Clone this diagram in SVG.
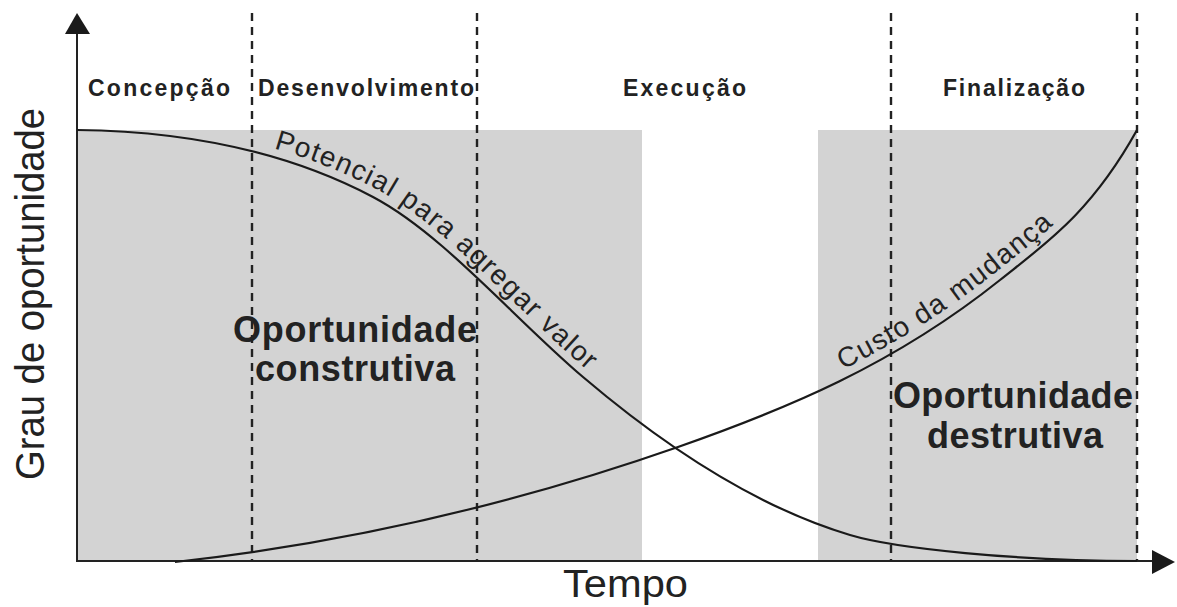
<svg xmlns="http://www.w3.org/2000/svg" width="1177" height="607" viewBox="0 0 1177 607">
<style>
.zone{fill:#d3d3d3;stroke:none}
.divider{stroke:#222;stroke-width:2.4;stroke-dasharray:8,6;fill:none}
.axis{stroke:#222;stroke-width:2;fill:none}
.head{fill:#1a1a1a}
.curve{stroke:#1a1a1a;stroke-width:2.2;fill:none}
.phase{font-family:"Liberation Sans",Arial,sans-serif;font-weight:bold;font-size:23px;fill:#222}
.big{font-family:"Liberation Sans",Arial,sans-serif;font-weight:bold;font-size:36px;fill:#222}
.curvelabel{font-family:"Liberation Sans",Arial,sans-serif;font-size:28px;fill:#222;letter-spacing:1.4px}
.axislabel{font-family:"Liberation Sans",Arial,sans-serif;fill:#222}
</style>
<rect width="1177" height="607" fill="#fff"/>
<g id="zones">
<rect id="zone-constructive" class="zone" x="77" y="130" width="565" height="431"/>
<rect id="zone-destructive" class="zone" x="818" y="130" width="319" height="431"/>
</g>
<g id="dividers">
<line class="divider" x1="252" y1="13" x2="252" y2="561"/>
<line class="divider" x1="477" y1="13" x2="477" y2="561"/>
<line class="divider" x1="891" y1="13" x2="891" y2="561"/>
<line class="divider" x1="1137" y1="13" x2="1137" y2="561"/>
</g>
<g id="connectors">
<line class="axis" x1="77" y1="30" x2="77" y2="562"/>
<polygon class="head" points="77,13 65,34 90,34"/>
<line class="axis" x1="76" y1="561" x2="1155" y2="561"/>
<polygon class="head" points="1175,562 1152,550 1152,574"/>
<path id="c1" class="curve" d="M77,130 C176,131 280,148 373,197 C443,234 513,317.5 583,377 C672,452.7 761,508.3 850,535 C895,548.5 1017,561 1137,561"/>
<path id="c2" class="curve" d="M175,562 C343,543.5 510,505.8 678,447 C785,409.5 893,365.6 1000,280 C1046,243.2 1091,212.8 1137,130"/>
</g>
<g id="phase-labels">
<text id="concepcao" class="phase" x="88" y="96" textLength="142">Concepção</text>
<text id="desenvolvimento" class="phase" x="258" y="96" textLength="216">Desenvolvimento</text>
<text id="execucao" class="phase" x="623" y="96" textLength="123">Execução</text>
<text id="finalizacao" class="phase" x="943" y="96" textLength="142">Finalização</text>
</g>
<g id="curve-labels">
<text class="curvelabel" transform="translate(3,-8)"><textPath href="#c1" startOffset="196">Potencial para agregar valor</textPath></text>
<text class="curvelabel" transform="translate(-4,-8)"><textPath href="#c2" startOffset="700">Custo da mudança</textPath></text>
</g>
<g id="zone-labels">
<text class="big" x="233" y="342" textLength="244">Oportunidade</text>
<text class="big" x="255" y="381" textLength="200">construtiva</text>
<text class="big" x="893" y="408" textLength="240">Oportunidade</text>
<text class="big" x="927" y="448" textLength="176">destrutiva</text>
</g>
<g id="axis-labels">
<text class="axislabel" font-size="38" x="563" y="597" textLength="125" lengthAdjust="spacingAndGlyphs">Tempo</text>
<text class="axislabel" font-size="41" transform="translate(44,480) rotate(-90)" x="0" y="0" textLength="372" lengthAdjust="spacingAndGlyphs">Grau de oportunidade</text>
</g>
</svg>
